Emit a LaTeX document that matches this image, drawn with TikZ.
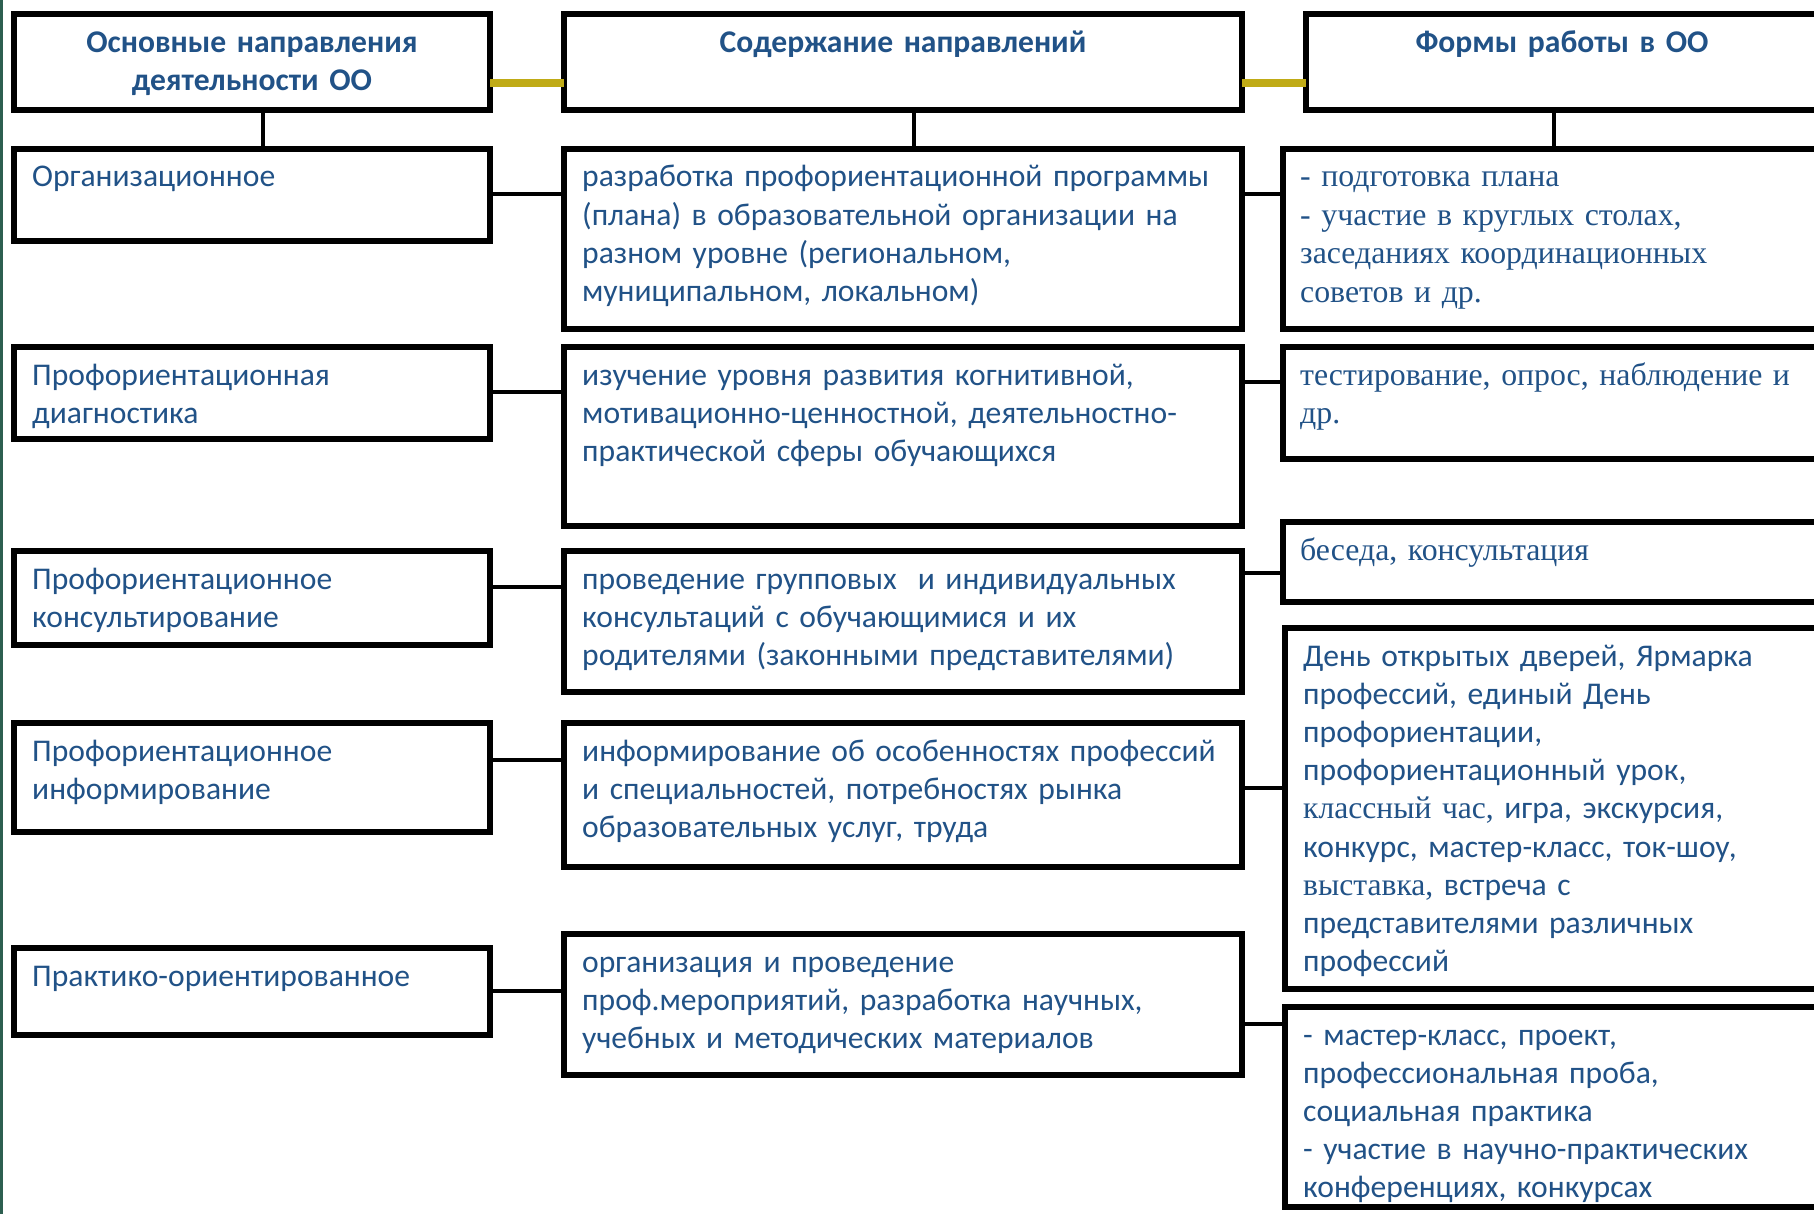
\documentclass[tikz,border=0pt]{standalone}
\usepackage{fontspec}
\setmainfont{Carlito}
\newfontfamily\tnr{Liberation Serif}
\definecolor{txtblue}{RGB}{33,82,135}
\definecolor{goldc}{RGB}{192,171,22}
\definecolor{edgec}{RGB}{45,95,80}
\begin{document}
\begin{tikzpicture}[x=1pt,y=-1pt,
  box/.style={draw=black, line width=6pt, fill=white, inner sep=0pt, outer sep=0pt, anchor=north west},
  conn/.style={draw=black, line width=4.5pt},
  goldln/.style={draw=goldc, line width=8pt},
  txt/.style={inner sep=0pt, anchor=base west, text width=820pt, align=left, text=txtblue, font=\fontsize{31.6}{38.2}\selectfont},
  stxt/.style={txt, font=\tnr\fontsize{31.8}{38.4}\selectfont},
  head/.style={inner sep=0pt, anchor=base, align=center, text width=520pt, text=txtblue, font=\bfseries\fontsize{31.6}{37.5}\selectfont},
]
\useasboundingbox (0,0) rectangle (1814,1214);
\fill[white] (0,0) rectangle (1814,1214);
\clip (0,0) rectangle (1814,1214);
\fill[edgec] (0,0) rectangle (3,1214);

% header boxes
\node[box, minimum width=476pt, minimum height=96pt] (H1) at (14,14) {};
\node[box, minimum width=678pt, minimum height=96pt] (H2) at (564,14) {};
\node[box, minimum width=524pt, minimum height=96pt] (H3) at (1306,14) {};

% left column
\node[box, minimum width=476pt, minimum height=92pt] (L1) at (14,149) {};
\node[box, minimum width=476pt, minimum height=92pt] (L2) at (14,347) {};
\node[box, minimum width=476pt, minimum height=94pt] (L3) at (14,551) {};
\node[box, minimum width=476pt, minimum height=109pt] (L4) at (14,723) {};
\node[box, minimum width=476pt, minimum height=87pt] (L5) at (14,948) {};

% middle column
\node[box, minimum width=678pt, minimum height=180pt] (M1) at (564,149) {};
\node[box, minimum width=678pt, minimum height=179pt] (M2) at (564,347) {};
\node[box, minimum width=678pt, minimum height=141pt] (M3) at (564,551) {};
\node[box, minimum width=678pt, minimum height=144pt] (M4) at (564,723) {};
\node[box, minimum width=678pt, minimum height=141pt] (M5) at (564,934) {};

% right column
\node[box, minimum width=547pt, minimum height=180pt] (R1) at (1283,149) {};
\node[box, minimum width=547pt, minimum height=112pt] (R2) at (1283,347) {};
\node[box, minimum width=547pt, minimum height=80pt] (R3) at (1283,522) {};
\node[box, minimum width=545pt, minimum height=361pt] (R4) at (1285,628) {};
\node[box, minimum width=545pt, minimum height=200pt] (R5) at (1285,1007) {};

% helper coordinates
\coordinate (gy) at (0,83);
\coordinate (vx1) at (263,0);
\coordinate (vx2) at (914,0);
\coordinate (vx3) at (1554,0);
\coordinate (a1) at (0,194);
\coordinate (a2) at (0,392);
\coordinate (a3) at (0,587);
\coordinate (a4) at (0,760);
\coordinate (a5) at (0,991);
\coordinate (b1) at (0,194);
\coordinate (b2) at (0,382);
\coordinate (b3) at (0,573);
\coordinate (b4) at (0,788);
\coordinate (b5) at (0,1024);

% connectors
\draw[goldln] (H1.east |- gy) -- (H2.west |- gy);
\draw[goldln] (H2.east |- gy) -- (H3.west |- gy);
\draw[conn] (H1.south -| vx1) -- (L1.north -| vx1);
\draw[conn] (H2.south -| vx2) -- (M1.north -| vx2);
\draw[conn] (H3.south -| vx3) -- (R1.north -| vx3);
\draw[conn] (L1.east |- a1) -- (M1.west |- a1);
\draw[conn] (L2.east |- a2) -- (M2.west |- a2);
\draw[conn] (L3.east |- a3) -- (M3.west |- a3);
\draw[conn] (L4.east |- a4) -- (M4.west |- a4);
\draw[conn] (L5.east |- a5) -- (M5.west |- a5);
\draw[conn] (M1.east |- b1) -- (R1.west |- b1);
\draw[conn] (M2.east |- b2) -- (R2.west |- b2);
\draw[conn] (M3.east |- b3) -- (R3.west |- b3);
\draw[conn] (M4.east |- b4) -- (R4.west |- b4);
\draw[conn] (M5.east |- b5) -- (R5.west |- b5);

% header texts
\node[head] (tH1) at ([yshift=-39pt]H1.north) {Основные направления\\деятельности ОО};
\node[head] (tH2) at ([yshift=-39pt]H2.north) {Содержание направлений};
\node[head] (tH3) at (1562,53) {Формы работы в ОО};

% left texts
\node[txt] (tL1) at ([xshift=18pt,yshift=-38pt]L1.north west) {Организационное};
\node[txt] (tL2) at ([xshift=18pt,yshift=-38pt]L2.north west) {Профориентационная\\диагностика};
\node[txt] (tL3) at ([xshift=18pt,yshift=-38pt]L3.north west) {Профориентационное\\консультирование};
\node[txt] (tL4) at ([xshift=18pt,yshift=-38pt]L4.north west) {Профориентационное\\информирование};
\node[txt] (tL5) at ([xshift=18pt,yshift=-38pt]L5.north west) {Практико-ориентированное};

% middle texts
\node[txt] (tM1) at ([xshift=18pt,yshift=-38pt]M1.north west) {разработка профориентационной программы\\(плана) в образовательной организации на\\разном уровне (региональном,\\муниципальном, локальном)};
\node[txt] (tM2) at ([xshift=18pt,yshift=-38pt]M2.north west) {изучение уровня развития когнитивной,\\мотивационно-ценностной, деятельностно-\\практической сферы обучающихся};
\node[txt] (tM3) at ([xshift=18pt,yshift=-38pt]M3.north west) {проведение групповых\ \ и индивидуальных\\консультаций с обучающимися и их\\родителями (законными представителями)};
\node[txt] (tM4) at ([xshift=18pt,yshift=-38pt]M4.north west) {информирование об особенностях профессий\\и специальностей, потребностях рынка\\образовательных услуг, труда};
\node[txt] (tM5) at ([xshift=18pt,yshift=-38pt]M5.north west) {организация и проведение\\проф.мероприятий, разработка научных,\\учебных и методических материалов};

% right texts
\node[stxt] (tR1) at ([xshift=17pt,yshift=-38pt]R1.north west) {- подготовка плана\\- участие в круглых столах,\\заседаниях координационных\\советов и др.};
\node[stxt] (tR2) at ([xshift=17pt,yshift=-38pt]R2.north west) {тестирование, опрос, наблюдение и\\др.};
\node[stxt] (tR3) at ([xshift=17pt,yshift=-38pt]R3.north west) {беседа, консультация};
\node[txt] (tR4) at ([xshift=18pt,yshift=-38pt]R4.north west) {День открытых дверей, Ярмарка\\профессий, единый День\\профориентации,\\профориентационный урок,\\{\tnr классный час,} игра, экскурсия,\\конкурс, мастер-класс, ток-шоу,\\{\tnr выставка,} встреча с\\представителями различных\\профессий};
\node[txt] (tR5) at ([xshift=18pt,yshift=-38pt]R5.north west) {- мастер-класс, проект,\\профессиональная проба,\\социальная практика\\- участие в научно-практических\\конференциях, конкурсах};
\end{tikzpicture}
\end{document}
